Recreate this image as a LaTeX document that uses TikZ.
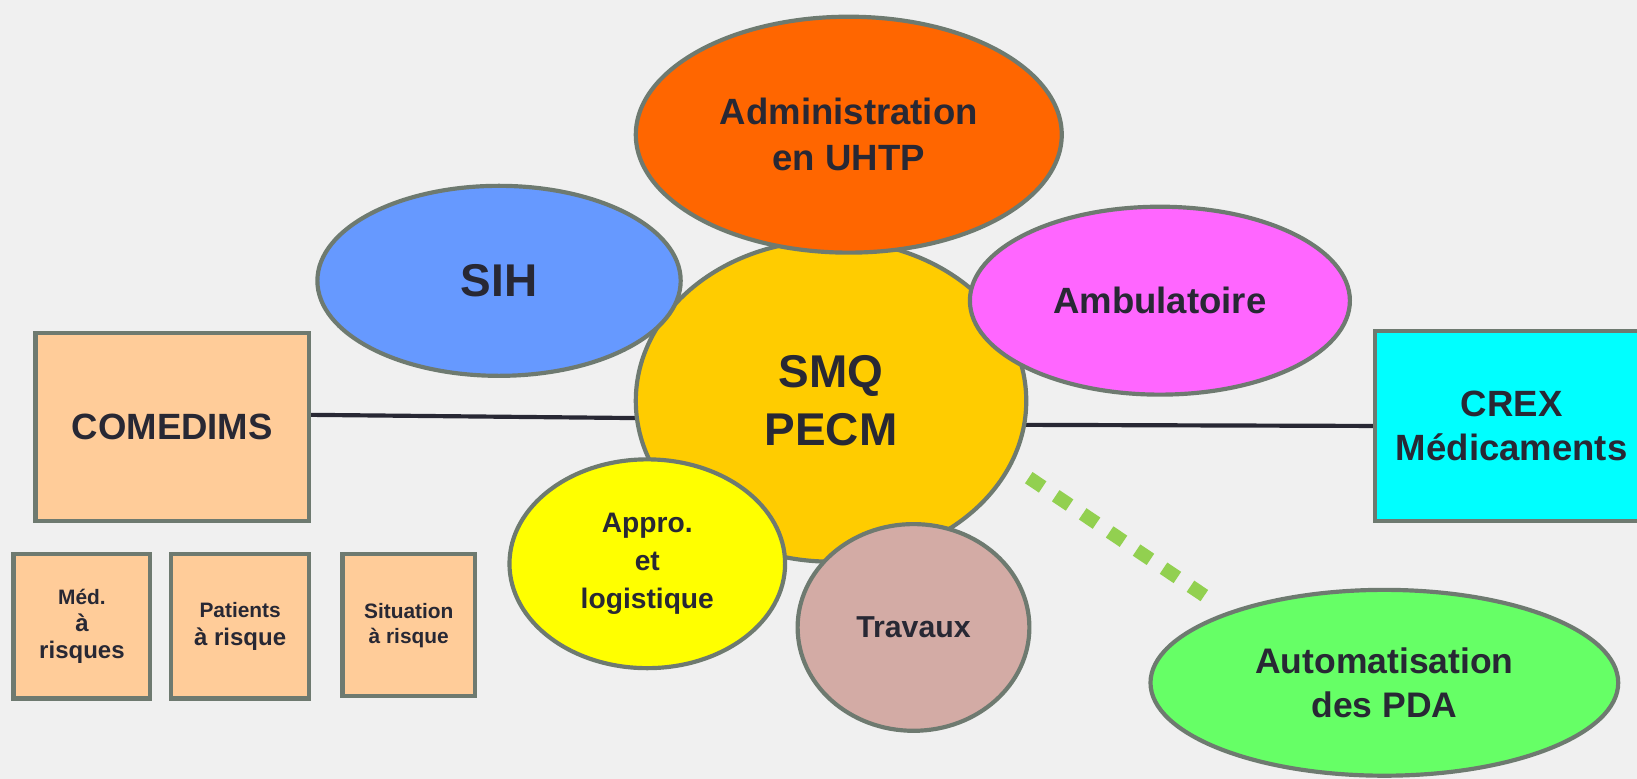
\documentclass[tikz,border=0pt]{standalone}
\usepackage{fontspec}
\setmainfont{Liberation Sans}
\usetikzlibrary{shapes.geometric}
\definecolor{bgc}{HTML}{F0F0F0}
\definecolor{bord}{HTML}{6E7A70}
\definecolor{txt}{HTML}{282834}
\definecolor{cyellow}{HTML}{FFCC00}
\definecolor{corange}{HTML}{FF6600}
\definecolor{cblue}{HTML}{6699FF}
\definecolor{cmagenta}{HTML}{FF66FF}
\definecolor{cappro}{HTML}{FFFF00}
\definecolor{ctrav}{HTML}{D3ABA5}
\definecolor{cauto}{HTML}{66FF66}
\definecolor{cpeach}{HTML}{FFCC99}
\definecolor{ccyan}{HTML}{00FFFF}
\definecolor{cdots}{HTML}{92D050}
\pgfdeclarelayer{back}
\pgfdeclarelayer{canvas}
\pgfsetlayers{canvas,back,main}
\begin{document}
\begin{tikzpicture}[x=1pt,y=-1pt,
  bub/.style={ellipse,draw=bord,line width=4pt,inner sep=0pt,text=txt,align=center},
  box/.style={rectangle,draw=bord,line width=4pt,inner sep=0pt,text=txt,align=center},
  link/.style={draw=txt,line width=4pt},
  dotlink/.style={draw=cdots,line width=13pt,dash pattern=on 16pt off 15.1pt},
  fbig/.style={font=\bfseries\fontsize{44}{56}\selectfont},
  fmid/.style={font=\bfseries\fontsize{35}{43}\selectfont},
  fsmall/.style={font=\bfseries\fontsize{27}{36.5}\selectfont}]
\useasboundingbox (0,0) rectangle (1568,746);
\begin{pgfonlayer}{canvas}
\fill[bgc] (0,0) rectangle (1568,746);
\end{pgfonlayer}
\clip (0,0) rectangle (1568,746);

\node[box,fill=cpeach,minimum width=262,minimum height=180,fmid] (comedims) at (165,409) {COMEDIMS};
\node[box,fill=ccyan,minimum width=262,minimum height=182,fmid] (crex) at (1448,408) {CREX\\Médicaments};

\node[bub,fill=cyellow,minimum width=374,minimum height=308,fbig] (smq) at (796,384) {SMQ\\PECM};
\node[bub,fill=corange,minimum width=408,minimum height=226,font=\bfseries\fontsize{35}{44}\selectfont] (admin) at (813,129) {Administration\\en UHTP};
\node[bub,fill=cblue,minimum width=348,minimum height=182,fbig] (sih) at (478,269) {SIH};
\node[bub,fill=cmagenta,minimum width=364,minimum height=180,fmid] (ambu) at (1111,288) {Ambulatoire};
\node[bub,fill=cappro,minimum width=264,minimum height=200,fsmall] (appro) at (620,540) {Appro.\\et\\logistique};
\node[bub,fill=ctrav,minimum width=222,minimum height=198,font=\bfseries\fontsize{29}{36}\selectfont] (trav) at (875,601) {Travaux};
\node[bub,fill=cauto,minimum width=448,minimum height=178,font=\bfseries\fontsize{34}{43}\selectfont] (auto) at (1326,654) {Automatisation\\des PDA};

\node[box,fill=cpeach,minimum width=131,minimum height=138,font=\bfseries\fontsize{23}{25.5}\selectfont] (med) at (78.5,600)
  {{\fontsize{20}{25.5}\selectfont Méd.}\\à\\risques};
\node[box,fill=cpeach,minimum width=132,minimum height=138,font=\bfseries\fontsize{23}{26}\selectfont] (pat) at (230,600)
  {{\fontsize{20}{26}\selectfont Patients}\\à risque};
\node[box,fill=cpeach,minimum width=127,minimum height=136,font=\bfseries\fontsize{20}{23.5}\selectfont] (sit) at (391.5,599)
  {Situation\\à risque};

\coordinate (dA) at (985.4,457.5);
\coordinate (dB) at (1153.6,570.5);

\begin{pgfonlayer}{back}
\draw[link] (comedims.5) -- (smq.185);
\draw[link] (smq.-7) -- (crex.west);
\end{pgfonlayer}
\draw[dotlink] (dA) -- (dB);
\end{tikzpicture}
\end{document}
